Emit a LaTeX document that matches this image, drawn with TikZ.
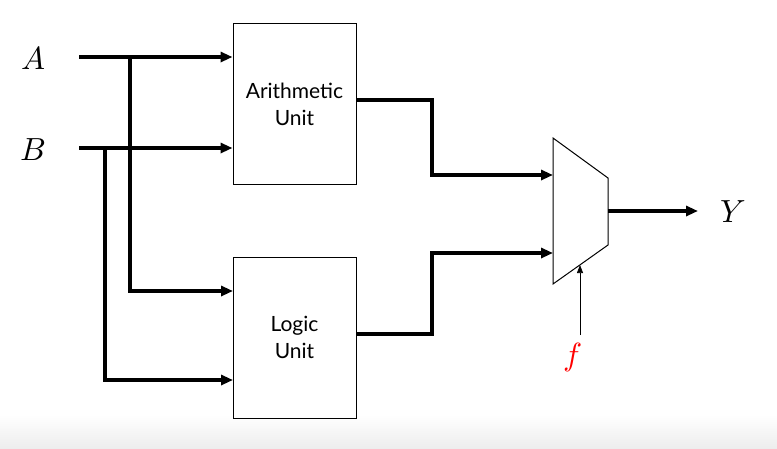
\documentclass[tikz,border=0pt]{standalone}
\usepackage{fontspec}
\usepackage{unicode-math}
\setmathfont{Latin Modern Math}
\setsansfont{Lato}
\usetikzlibrary{arrows.meta}
\begin{document}
\begin{tikzpicture}[x=1pt,y=-1pt,
  wire/.style={line width=3.3pt,-{Triangle[length=12pt,width=10pt]}},
  unitbox/.style={draw,line width=1pt,minimum width=123pt,minimum height=161pt,align=center,font=\sffamily\fontsize{21}{27}\selectfont,inner sep=0pt},
  lbl/.style={font=\fontsize{32}{36}\selectfont}]
\useasboundingbox (0,0) rectangle (777,448);
\shade[top color=white,bottom color=black!7] (0,415) rectangle (777,448);
% units
\node[unitbox] (au) at (294.5,104) {Arithmetic\\Unit};
\node[unitbox] (lu) at (294.5,337.5) {Logic\\Unit};
% labels
\node[lbl] (A) at (33,58) {$A$};
\node[lbl] (B) at (33,150) {$B$};
\node[lbl] (Y) at (733,212) {$Y$};
\node[lbl,text=red] (f) at (573,357) {$f$};
% mux
\coordinate (m1) at (553,138);
\coordinate (m2) at (608,178);
\coordinate (m3) at (608,245);
\coordinate (m4) at (553,284);
\draw[line width=1pt,fill=white] (m1) -- (m2) -- (m3) -- (m4) -- cycle;
\coordinate (muxin1) at (553,175);
\coordinate (muxin2) at (553,253);
\coordinate (muxout) at (608,211);
\coordinate (muxsel) at (580,265);
% inputs
\coordinate (As) at (79,57);
\coordinate (Bs) at (79,148);
\coordinate (jA) at (130,57);
\coordinate (jB) at (105,148);
\coordinate (luA) at (233,291);
\coordinate (luB) at (233,380);
\draw[wire] (As) -- (As -| au.west);
\draw[wire] (Bs) -- (Bs -| au.west);
\draw[wire] (jA) |- (luA);
\draw[wire] (jB) |- (luB);
% unit outputs
\coordinate (auo) at (356,100);
\coordinate (luo) at (356,334);
\draw[wire] (auo) -- (432,100) |- (muxin1);
\draw[wire] (luo) -- (432,334) |- (muxin2);
% mux out
\coordinate (Ye) at (698,211);
\draw[wire] (muxout) -- (Ye);
% select
\coordinate (fs) at (580,335);
\draw[line width=0.7pt,-{Triangle[length=8pt,width=6pt]}] (fs) -- (muxsel);
\end{tikzpicture}
\end{document}
